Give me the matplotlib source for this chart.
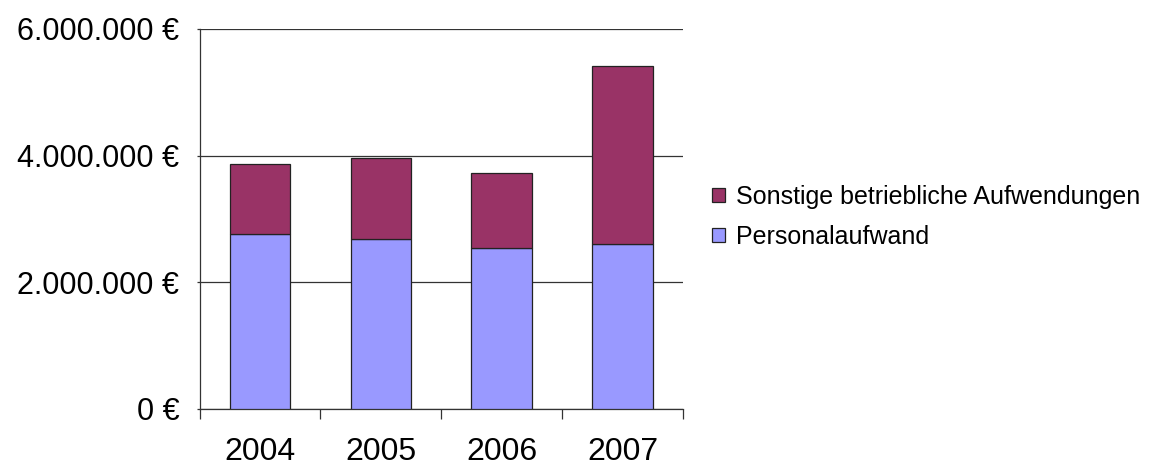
import matplotlib
matplotlib.use("Agg")
import matplotlib.pyplot as plt
from matplotlib.patches import Patch

years = ["2004", "2005", "2006", "2007"]
personal = [2770000, 2677000, 2535000, 2610000]
sonstige = [1105000, 1283000, 1185000, 2805000]
yticks = [0, 2000000, 4000000, 6000000]
ytick_labels = ["0 €", "2.000.000 €", "4.000.000 €", "6.000.000 €"]
series_names = ["Personalaufwand", "Sonstige betriebliche Aufwendungen"]

c_personal = "#9999FF"
c_sonstige = "#993366"

plt.rcParams['font.family'] = ['Liberation Sans', 'DejaVu Sans']

fig = plt.figure(figsize=(11.63, 4.68), dpi=100)
ax = fig.add_axes([199.5/1163, 1-409/468, (683-199.5)/1163, (409-29)/468])

x = list(range(len(years)))
ax.bar(x, personal, width=0.5, color=c_personal, edgecolor="#222222", linewidth=0.9, zorder=3)
ax.bar(x, sonstige, width=0.5, bottom=personal, color=c_sonstige, edgecolor="#222222", linewidth=0.9, zorder=3)

ax.set_xlim(-0.5, len(years) - 0.5)
ax.set_ylim(0, 6000000)
ax.set_yticks(yticks)
ax.set_yticklabels(ytick_labels, fontsize=22)
ax.set_xticks(x)
ax.set_xticklabels(years, fontsize=23)
ax.set_xticks([i - 0.5 for i in range(len(years) + 1)], minor=True)
ax.tick_params(axis='x', which='major', length=0, pad=20)
ax.tick_params(axis='x', which='minor', length=7.5, width=0.9, color="#333333", direction='out')
ax.tick_params(axis='y', length=2.5, width=0.9, color="#333333", pad=12)

ax.grid(axis='y', color="#333333", linewidth=0.9, zorder=0)
ax.set_axisbelow(True)
for s in ['top', 'right']:
    ax.spines[s].set_visible(False)
for s in ['left', 'bottom']:
    ax.spines[s].set_color("#333333")
    ax.spines[s].set_linewidth(0.9)

handles = [Patch(facecolor=c_sonstige, edgecolor="#222222", linewidth=0.9),
           Patch(facecolor=c_personal, edgecolor="#222222", linewidth=0.9)]
fig.legend(handles, [series_names[1], series_names[0]], loc='center left',
           bbox_to_anchor=(712/1163, 1-217/468), frameon=False, fontsize=18,
           handlelength=0.5, handleheight=0.5, handletextpad=0.45,
           labelspacing=0.65, borderpad=0, borderaxespad=0)

fig.savefig("out.png", dpi=100)
